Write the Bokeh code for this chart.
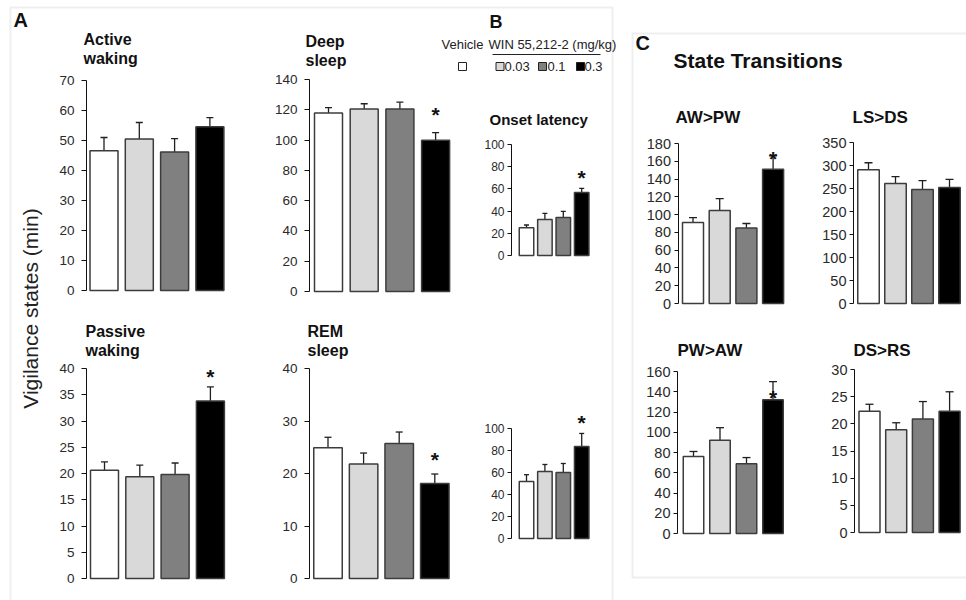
import math
from bokeh.plotting import figure
from bokeh.models import (Range1d, LinearAxis, FixedTicker, Whisker, TeeHead,
                          ColumnDataSource, Label, BoxAnnotation)
from bokeh.core.properties import value
from bokeh.embed import file_html
from bokeh.resources import INLINE

# ---------------- data ----------------
groups = ["Vehicle", "WIN 0.03", "WIN 0.1", "WIN 0.3"]
bar_colors = ["#ffffff", "#d9d9d9", "#808080", "#000000"]
legend_labels = ["0.03", "0.1", "0.3"]

active_waking = [46.6, 50.5, 46.2, 54.6]
active_waking_upper = [51.0, 56.0, 50.6, 57.6]
deep_sleep = [117.9, 120.5, 120.5, 99.8]
deep_sleep_upper = [121.4, 124.0, 125.0, 104.9]
passive_waking = [20.6, 19.4, 19.8, 33.8]
passive_waking_upper = [22.2, 21.6, 22.0, 36.5]
rem_sleep = [24.9, 21.8, 25.7, 18.1]
rem_sleep_upper = [26.9, 23.9, 27.9, 19.9]
ds_onset = [25.0, 32.4, 34.3, 56.7]
ds_onset_upper = [27.5, 38.0, 39.8, 60.4]
rem_onset = [51.8, 61.0, 60.0, 83.6]
rem_onset_upper = [58.0, 67.3, 68.2, 95.5]
aw_pw = [91.0, 104.6, 85.0, 151.0]
aw_pw_upper = [96.7, 118.0, 90.0, 166.0]
ls_ds = [291.0, 261.0, 248.0, 252.0]
ls_ds_upper = [306.0, 276.0, 267.0, 270.0]
pw_aw = [76.0, 92.0, 69.0, 132.0]
pw_aw_upper = [81.0, 104.5, 75.0, 150.0]
ds_rs = [22.3, 18.9, 20.9, 22.3]
ds_rs_upper = [23.6, 20.2, 24.1, 25.9]

# significance stars (value units, on the 0.3 mg/kg bar)
star_deep = 120.5
star_ds_onset = 74.8
star_passive = 39.4
star_rem = 23.6
star_rem_onset = 110.0
star_aw_pw = 168.7
star_pw_aw = 139.3

ticks_aw = [0, 10, 20, 30, 40, 50, 60, 70]
ticks_ds = [0, 20, 40, 60, 80, 100, 120, 140]
ticks_pw = [0, 5, 10, 15, 20, 25, 30, 35, 40]
ticks_rem = [0, 10, 20, 30, 40]
ticks_onset = [0, 20, 40, 60, 80, 100]
ticks_awpw = [0, 20, 40, 60, 80, 100, 120, 140, 160, 180]
ticks_lsds = [0, 50, 100, 150, 200, 250, 300, 350]
ticks_pwaw = [0, 20, 40, 60, 80, 100, 120, 140, 160]
ticks_dsrs = [0, 5, 10, 15, 20, 25, 30]

# ---------------- canvas ----------------
FONT = "Liberation Sans"
W, H = 966, 600

p = figure(width=W, height=H, x_range=Range1d(0, W), y_range=Range1d(H, 0),
           output_backend="svg", toolbar_location=None,
           x_axis_location=None, y_axis_location=None, min_border=0)
p.outline_line_color = None
p.grid.visible = False
p.background_fill_color = "white"
p.border_fill_color = "white"

# panel boxes
p.add_layout(BoxAnnotation(left=10, right=612, top=7, bottom=606, fill_alpha=0,
                           line_color="#c6c6c6", line_width=2))
p.add_layout(BoxAnnotation(left=632, right=975, top=33, bottom=577, fill_alpha=0,
                           line_color="#c6c6c6", line_width=2))


def panel(name, means, uppers, ticks, geom, fsize, tick_out, standoff, tee, star=None):
    axis_px, y0, ytop, cx0, dx, wpx = geom
    vmax = ticks[-1]
    ky = vmax / (y0 - ytop)
    p.extra_y_ranges[name] = Range1d((y0 - H) * ky, y0 * ky)
    p.extra_x_ranges[name] = Range1d(-cx0 / dx, (W - cx0) / dx)
    src = ColumnDataSource(dict(x=list(range(len(means))), top=means, upper=uppers,
                                color=bar_colors, group=groups))
    p.vbar(x="x", top="top", bottom=0, width=wpx / dx, source=src,
           fill_color="color", line_color="#3c3c3c", line_width=1.5,
           x_range_name=name, y_range_name=name)
    p.add_layout(Whisker(source=src, base="x", lower="top", upper="upper",
                         dimension="height", line_color="#202020", line_width=1.3,
                         upper_head=TeeHead(size=tee, line_color="#202020", line_width=1.3),
                         lower_head=None, x_range_name=name, y_range_name=name))
    ax = LinearAxis(x_range_name=name, y_range_name=name,
                    fixed_location=(axis_px - cx0) / dx, bounds=(0, vmax),
                    ticker=FixedTicker(ticks=ticks))
    ax.axis_line_color = "#111111"
    ax.axis_line_width = 1
    ax.major_tick_line_color = "#111111"
    ax.major_tick_out = tick_out
    ax.major_tick_in = 0
    ax.minor_tick_line_color = None
    ax.major_label_text_font = FONT
    ax.major_label_text_font_size = fsize
    ax.major_label_text_color = "#2a2a2a"
    ax.major_label_standoff = standoff
    p.add_layout(ax, "left")
    if star is not None:
        p.text(x=[3], y=[star], text=["*"], x_range_name=name, y_range_name=name,
               text_font=value(FONT), text_font_style="bold", text_font_size="21px",
               text_align="center", text_baseline="middle", y_offset=5,
               text_color="#111111")


# geometry: axis x px, y px of 0, y px of top tick, first bar centre px, bar spacing px, bar width px
panel("aw", active_waking, active_waking_upper, ticks_aw, (86, 290, 80, 103.5, 35.3, 28), "13.5px", 5, 7, 7)
panel("ds", deep_sleep, deep_sleep_upper, ticks_ds, (309, 291, 79, 328, 35.7, 28), "13.5px", 5, 7, 7, star_deep)
panel("on1", ds_onset, ds_onset_upper, ticks_onset, (511, 255, 144, 526, 18.4, 14.5), "12px", 4, 3, 5, star_ds_onset)
panel("pw", passive_waking, passive_waking_upper, ticks_pw, (86, 578, 368, 104, 35.3, 28), "13.5px", 5, 7, 7, star_passive)
panel("rem", rem_sleep, rem_sleep_upper, ticks_rem, (309, 578, 368, 327.5, 35.6, 28.5), "13.5px", 5, 7, 7, star_rem)
panel("on2", rem_onset, rem_onset_upper, ticks_onset, (511, 538, 428, 526, 18.4, 14.5), "12px", 4, 3, 5, star_rem_onset)
panel("awpw", aw_pw, aw_pw_upper, ticks_awpw, (677.5, 303, 143, 692.5, 26.7, 21), "14.5px", 4, 3, 8, star_aw_pw)
panel("lsds", ls_ds, ls_ds_upper, ticks_lsds, (853, 303, 142, 868, 27, 21.5), "14.5px", 4, 3, 8)
panel("pwaw", pw_aw, pw_aw_upper, ticks_pwaw, (677, 533, 371, 693, 26.5, 20.5), "14.5px", 4, 3, 8, star_pw_aw)
panel("dsrs", ds_rs, ds_rs_upper, ticks_dsrs, (854, 532, 369, 869, 26.7, 21), "14.5px", 4, 3, 8)


def label(x, y, text, size, bold=True, color="#111111", angle=0, align="left"):
    p.add_layout(Label(x=x, y=y, text=text, text_font=FONT, text_font_size=size,
                       text_font_style="bold" if bold else "normal", text_color=color,
                       angle=angle, text_align=align, text_baseline="middle"))


# panel letters and titles (y = vertical centre of the text)
label(13, 19.5, "A", "20px")
label(489, 21, "B", "18px")
label(635, 42.5, "C", "20px")
label(83, 39, "Active", "16px")
label(83, 58, "waking", "16px")
label(305, 41, "Deep", "16px")
label(305, 60, "sleep", "16px")
label(85, 331, "Passive", "16px")
label(85, 350, "waking", "16px")
label(307, 331, "REM", "16px")
label(307, 350, "sleep", "16px")
label(489, 119, "Onset latency", "15px")
label(673, 60, "State Transitions", "21px")
label(675, 116.5, "AW>PW", "17px")
label(852, 116.5, "LS>DS", "17px")
label(677, 350, "PW>AW", "17px")
label(853, 350, "DS>RS", "17px")
label(30, 308, "Vigilance states (min)", "21px", bold=False, color="#222222",
      angle=math.pi / 2, align="center")

# legend (B)
label(441, 44, "Vehicle", "13px", bold=False, color="#222222")
label(488, 44, "WIN 55,212-2 (mg/kg)", "13px", bold=False, color="#222222")
p.line(x=[492, 600], y=[54, 54], line_color="#222222", line_width=1)
p.rect(x=[462, 499.5, 542, 580], y=[66, 66, 66, 66], width=8, height=8,
       fill_color=bar_colors, line_color="#222222", line_width=1)
for lx, txt in zip([504, 547, 584], legend_labels):
    label(lx, 65.5, txt, "13px", bold=False, color="#222222")

open("out.html", "w").write(file_html(p, INLINE))
